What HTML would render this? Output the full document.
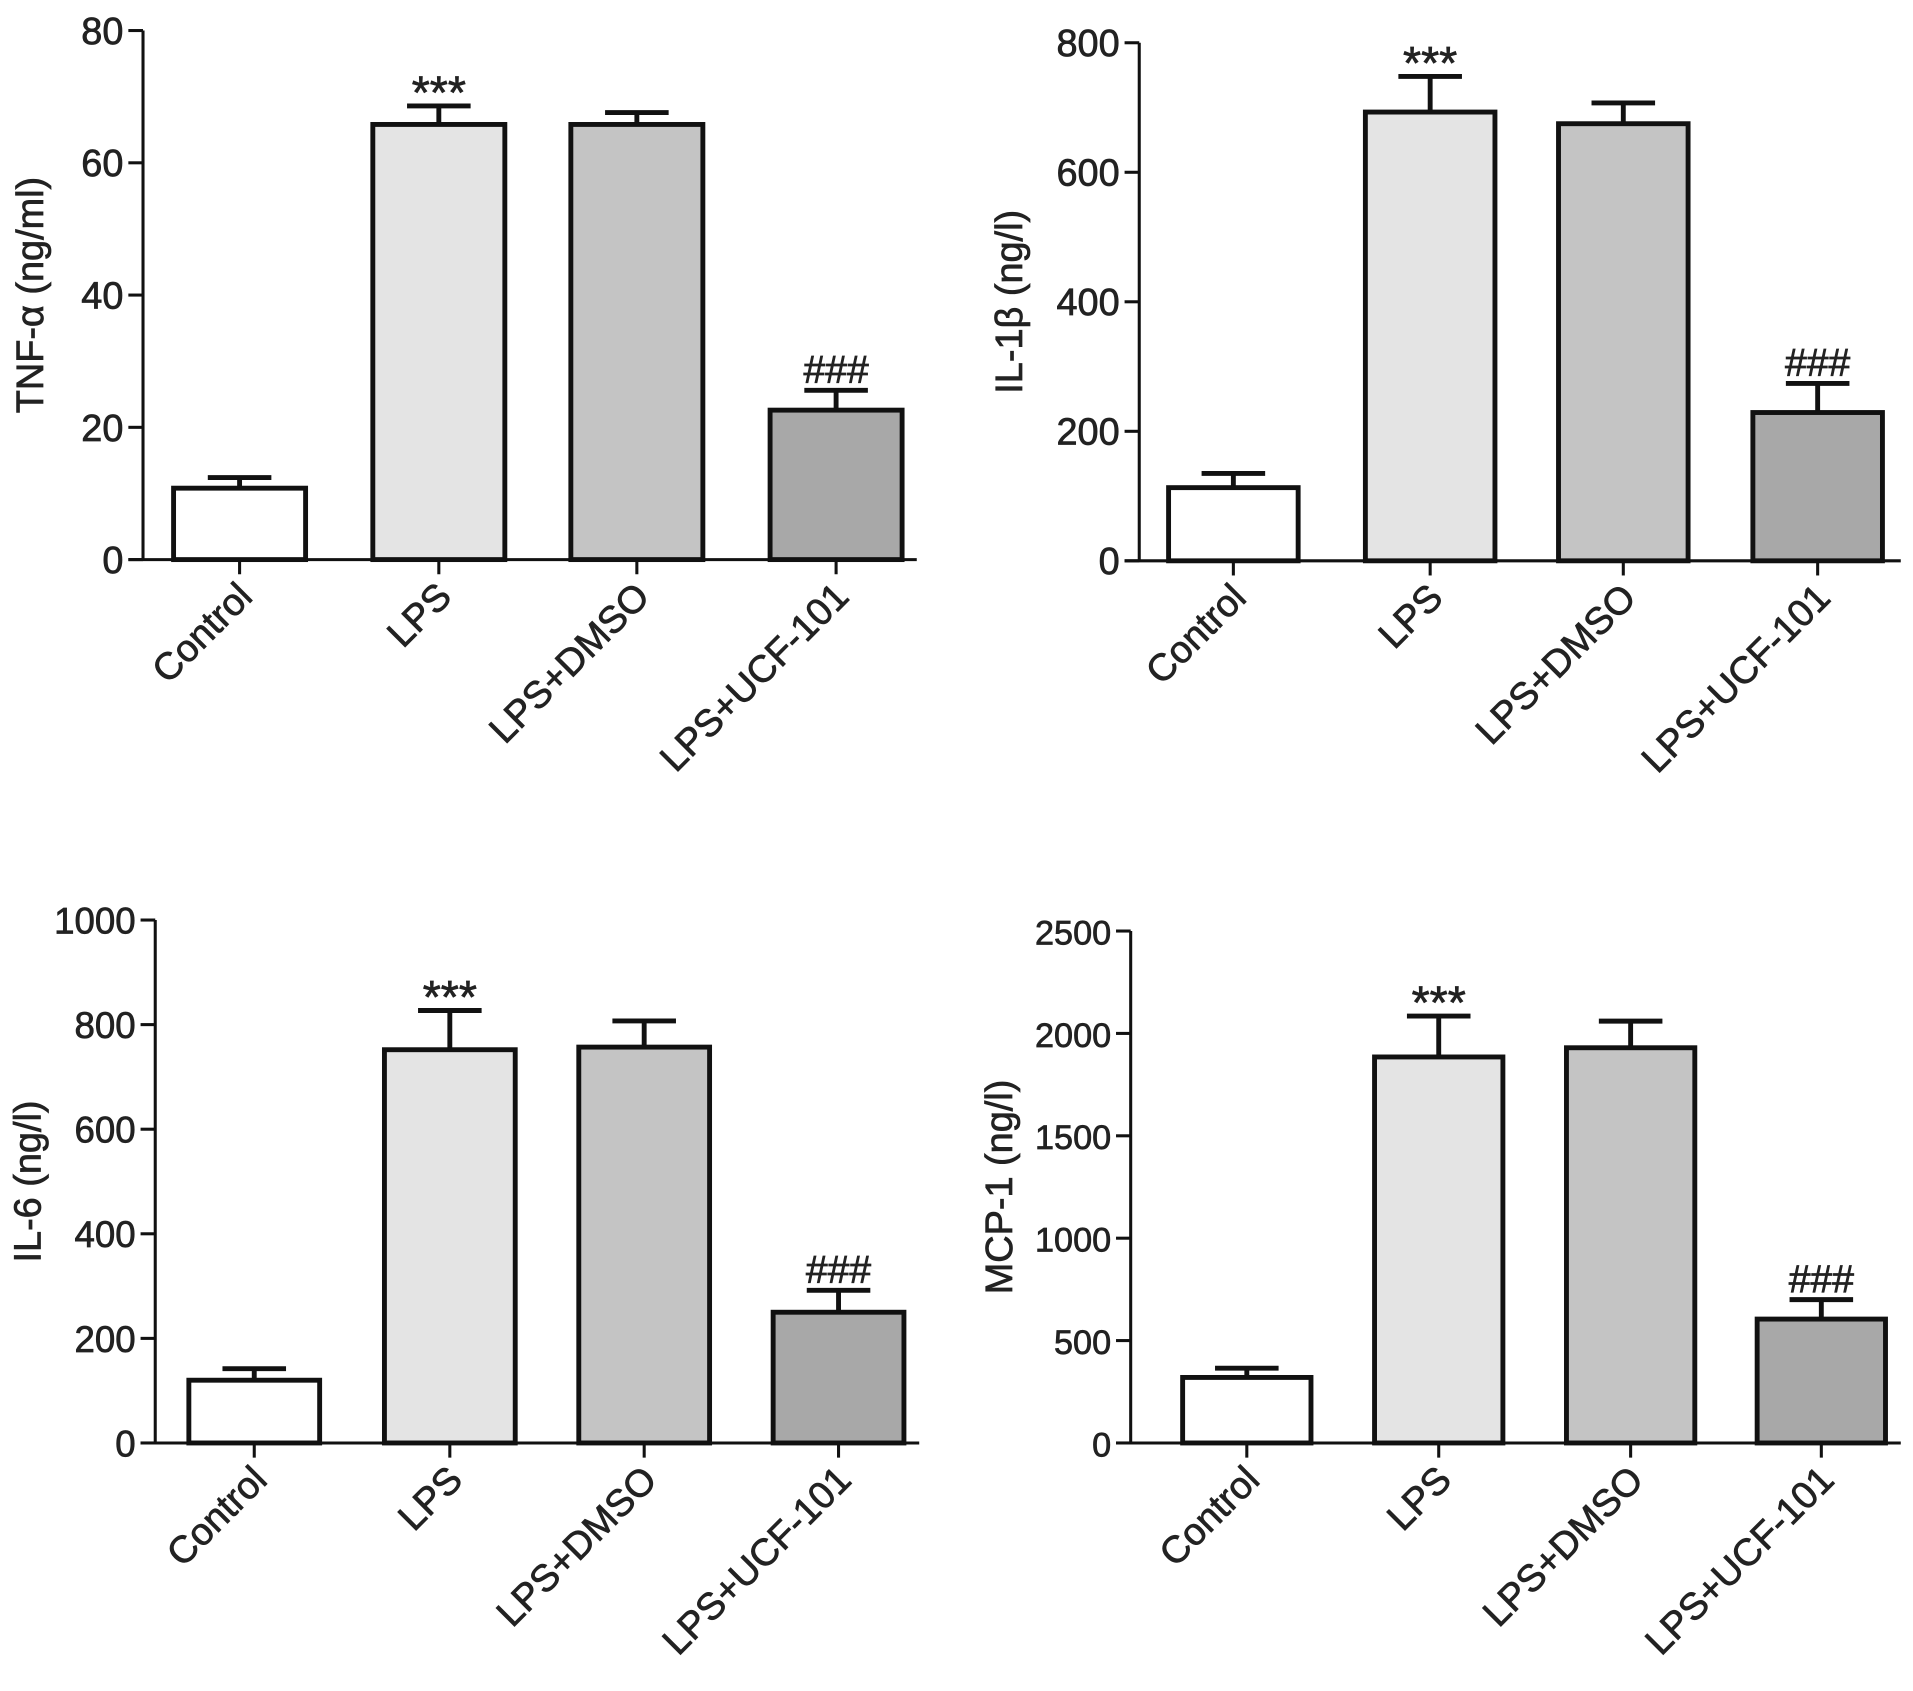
<!DOCTYPE html>
<html><head><meta charset="utf-8"><style>
html,body{margin:0;padding:0;background:#fff}
svg{display:block}
text{font-family:"Liberation Sans",Arial,sans-serif;fill:#222;stroke:#222;stroke-width:0.6}
</style></head><body>
<svg id="chart" width="1913" height="1691" viewBox="0 0 1565 1384" preserveAspectRatio="none" xmlns="http://www.w3.org/2000/svg"></svg>
<script>
const categories = ["Control","LPS","LPS+DMSO","LPS+UCF-101"];
const fills = ["#ffffff","#e4e4e4","#c4c4c4","#a8a8a8"];
const tnfValues = [10.8,65.8,65.8,22.6];
const tnfErrors = [1.6,2.8,1.8,3.0];
const tnfTicks = [0,20,40,60,80];
const il1Values = [113,693,675,229];
const il1Errors = [22,55,32,45];
const il1Ticks = [0,200,400,600,800];
const il6Values = [120,752,757,250];
const il6Errors = [22,75,50,42];
const il6Ticks = [0,200,400,600,800,1000];
const mcpValues = [320,1885,1930,605];
const mcpErrors = [45,200,130,95];
const mcpTicks = [0,500,1000,1500,2000,2500];
const marks = ["","***","","###"];

const panels = [
 {name:"tnf",title:"TNF-α (ng/ml)",values:tnfValues,errors:tnfErrors,ticks:tnfTicks,ax:117,y0:458,yTop:25,x1:750,centers:[196,359,521,684],bw:108,tx:23,tf:31},
 {name:"il1b",title:"IL-1β (ng/l)",values:il1Values,errors:il1Errors,ticks:il1Ticks,ax:932,y0:459,yTop:35,x1:1555,centers:[1009,1170,1328,1487],bw:106,tx:824,tf:31},
 {name:"il6",title:"IL-6 (ng/l)",values:il6Values,errors:il6Errors,ticks:il6Ticks,ax:127,y0:1181,yTop:753,x1:752,centers:[208,368,527,686],bw:107,tx:21,tf:30},
 {name:"mcp1",title:"MCP-1 (ng/l)",values:mcpValues,errors:mcpErrors,ticks:mcpTicks,ax:925,y0:1181,yTop:762,x1:1555,centers:[1020,1177,1334,1490],bw:105,tx:816,tf:28}
];
const NS="http://www.w3.org/2000/svg";
const svg=document.getElementById("chart");
function mk(tag,attrs,parent,txt){const e=document.createElementNS(NS,tag);for(const k in attrs)e.setAttribute(k,attrs[k]);if(txt!==undefined)e.textContent=txt;parent.appendChild(e);return e;}

panels.forEach(p=>{
  const g=mk("g",{},svg);
  
  
  const max=p.ticks[p.ticks.length-1];
  const y=v=>p.y0-(v/max)*(p.y0-p.yTop);
  p.values.forEach((v,i)=>{
    const c=p.centers[i];
    const top=y(v), et=y(v+p.errors[i]);
    const eb=mk("path",{d:`M${c},${top} V${et} M${c-26},${et} H${c+26}`,stroke:"#111","stroke-width":4,fill:"none"},g);
    
    
    const r=mk("rect",{x:c-p.bw/2,y:top,width:p.bw,height:p.y0-top,fill:fills[i],stroke:"#111","stroke-width":4},g);
    
    
    if(marks[i]){
      const star=marks[i]==="***";
      const t=mk("text",{x:c,y:star?et+2:et-6,"text-anchor":"middle","font-size":star?38:32,"font-family":"Liberation Serif, serif","stroke-width":0},g,marks[i]);
      
      
    }
    const tk=mk("line",{x1:c,y1:p.y0,x2:c,y2:p.y0+12,stroke:"#111","stroke-width":2.5},g);
    
    
    const lx=c+12, ly=p.y0+32;
    const lb=mk("text",{x:lx,y:ly,"text-anchor":"end","font-size":31,transform:`rotate(-45 ${lx} ${ly})`},g,categories[i]);
    
    
  });
  const ya=mk("line",{x1:p.ax,y1:p.yTop,x2:p.ax,y2:p.y0,stroke:"#111","stroke-width":2.5},g);
  
  
  const xa=mk("line",{x1:p.ax-12,y1:p.y0,x2:p.x1,y2:p.y0,stroke:"#111","stroke-width":2.5},g);
  
  
  p.ticks.forEach(t=>{
    const yy=y(t);
    const l=mk("line",{x1:p.ax-12,y1:yy,x2:p.ax,y2:yy,stroke:"#111","stroke-width":2.5},g);
    
    
    const tl=mk("text",{x:p.ax-16,y:yy+11,"text-anchor":"end","font-size":p.tf},g,String(t));
    
    
  });
  const cy=(p.y0+p.yTop)/2;
  const bx=p.tx+12;
  const tt=mk("text",{x:bx,y:cy,"text-anchor":"middle","font-size":31,transform:`rotate(-90 ${bx} ${cy})`},g,p.title);
  
  
});
</script>
</body></html>
